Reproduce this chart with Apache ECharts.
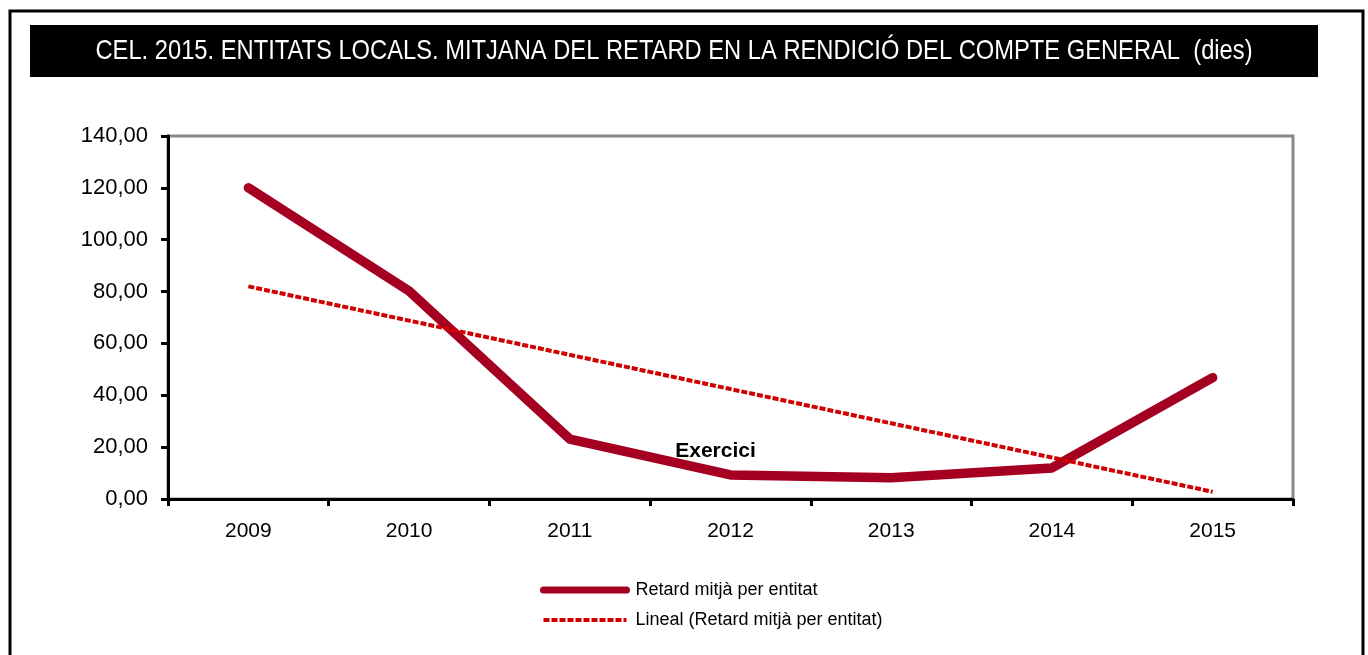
<!DOCTYPE html>
<html><head><meta charset="utf-8">
<script src="https://cdn.jsdelivr.net/npm/echarts@6/dist/echarts.min.js"></script>
<style>html,body{margin:0;padding:0;background:#fff}#c{width:1368px;height:655px}</style>
</head><body><div id="c"></div>
<script>
const categories = ['2009','2010','2011','2012','2013','2014','2015'];
const retardValues = [120.0, 80.2, 23.1, 9.3, 8.2, 12.0, 46.8];
const linealValues = [82.0, 68.8, 55.6, 42.4, 29.2, 16.0, 2.8];
const seriesNames = ['Retard mitjà per entitat', 'Lineal (Retard mitjà per entitat)'];
const titleText = 'CEL. 2015. ENTITATS LOCALS. MITJANA DEL RETARD EN LA RENDICIÓ DEL COMPTE GENERAL  (dies)';
const xAxisName = 'Exercici';
const FONT = '"Liberation Sans", Arial, sans-serif';

const chart = echarts.init(document.getElementById('c'));
chart.setOption({
  animation: false,
  textStyle: { fontFamily: FONT },
  graphic: [
    { type: 'rect', shape: { x: 10, y: 11, width: 1353, height: 660 }, style: { fill: 'none', stroke: '#000', lineWidth: 3 }, z: 0 },
    { type: 'rect', shape: { x: 30, y: 25, width: 1288, height: 52 }, style: { fill: '#000' }, z: 1 },
    { type: 'text', x: 674, y: 51, scaleX: 0.847, style: { text: titleText, fill: '#fff', font: '28px ' + FONT, align: 'center', verticalAlign: 'middle' }, z: 2 }
  ],
  grid: { left: 168, top: 136, right: 75, bottom: 156, show: true, borderColor: '#888', borderWidth: 3, backgroundColor: '#fff' },
  legend: {
    orient: 'vertical', left: 535, top: 576, itemWidth: 83, itemHeight: 14, itemGap: 12,
    textStyle: { fontFamily: FONT, fontSize: 18, color: '#000', padding: [0, 0, 0, 4] },
    data: [
      { name: seriesNames[0], itemStyle: { opacity: 0 }, lineStyle: { width: 7, color: '#A50021', cap: 'round' } },
      { name: seriesNames[1], itemStyle: { opacity: 0 }, lineStyle: { width: 4, color: '#D00000', type: [6, 2] } }
    ]
  },
  xAxis: {
    type: 'category', data: categories, boundaryGap: true,
    axisLine: { lineStyle: { color: '#000', width: 3 } },
    axisTick: { show: true, length: 7, lineStyle: { color: '#000', width: 3 } },
    axisLabel: { fontSize: 21, color: '#000', margin: 22, fontFamily: FONT },
    name: xAxisName, nameLocation: 'middle', nameGap: -58,
    nameTextStyle: { fontSize: 21, fontWeight: 'bold', color: '#000', fontFamily: FONT, padding: [0, 30, 0, 0] }
  },
  yAxis: {
    type: 'value', min: 0, max: 140, interval: 20,
    axisLine: { show: true, lineStyle: { color: '#000', width: 3 } },
    axisTick: { show: true, length: 7, lineStyle: { color: '#000', width: 3 } },
    axisLabel: { fontSize: 22, color: '#000', margin: 20, fontFamily: FONT, formatter: v => v.toFixed(2).replace('.', ',') },
    splitLine: { show: false }
  },
  series: [
    { name: seriesNames[0], type: 'line', data: retardValues, symbol: 'none', z: 3,
      lineStyle: { color: '#A50021', width: 9.5, cap: 'round', join: 'round' }, itemStyle: { color: '#A50021' } },
    { name: seriesNames[1], type: 'line', data: linealValues, symbol: 'none', z: 4,
      lineStyle: { color: '#D00000', width: 4, type: [6, 2] }, itemStyle: { color: '#D00000' } }
  ]
});
</script></body></html>
